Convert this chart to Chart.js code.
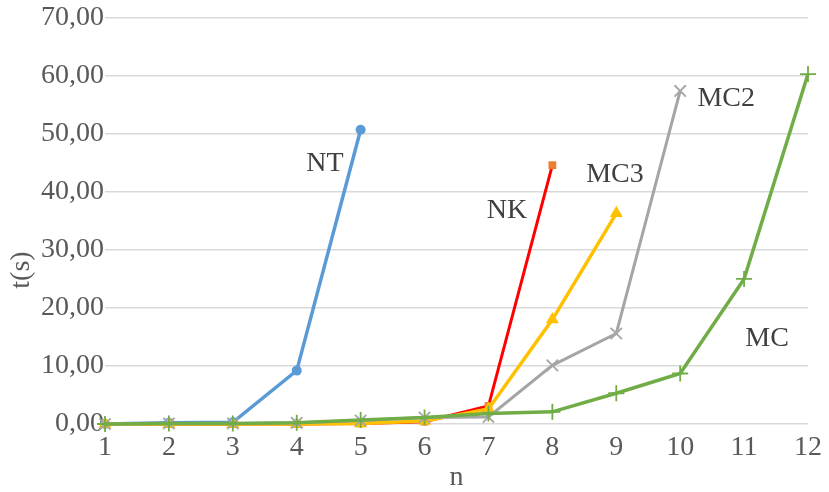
<!DOCTYPE html>
<html>
<head>
<meta charset="utf-8">
<script src="https://cdn.jsdelivr.net/npm/chart.js@4.4.1/dist/chart.umd.min.js"></script>
<style>
  html, body { margin: 0; padding: 0; background: #ffffff; }
  #wrap { width: 829px; height: 492px; }
</style>
</head>
<body>
<div id="wrap"><canvas id="c" width="829" height="492"></canvas></div>
<script>
// n values (problem size)
const nValues = [1, 2, 3, 4, 5, 6, 7, 8, 9, 10, 11, 12];

// run times t(s) per method
const ntTimes  = [0.0, 0.2, 0.3, 9.2, 50.7];
const nkTimes  = [0.0, 0.0, 0.0, 0.0, 0.1, 0.4, 3.1, 44.6];
const mc3Times = [0.0, 0.0, 0.0, 0.0, 0.1, 0.5, 2.6, 18.0, 36.3];
const mc2Times = [0.0, 0.1, 0.1, 0.2, 0.6, 1.1, 1.2, 10.1, 15.6, 57.4];
const mcTimes  = [0.0, 0.1, 0.1, 0.2, 0.7, 1.1, 1.8, 2.1, 5.3, 8.7, 25.0, 60.3];

// y tick values
const yTicks = [0, 10, 20, 30, 40, 50, 60, 70];

// series names
const seriesNames = ['NT', 'NK', 'MC3', 'MC2', 'MC'];

function toPoints(values) {
  return values.map((v, i) => ({ x: nValues[i], y: v }));
}

const serif = '"Liberation Serif", "Times New Roman", serif';
const textColor = '#595959';

// in-chart series names, placed in data coordinates
const nameSpots = [
  { text: seriesNames[0], x: 4.44, y: 44.8 },
  { text: seriesNames[1], x: 7.29, y: 36.7 },
  { text: seriesNames[2], x: 8.98, y: 43.0 },
  { text: seriesNames[3], x: 10.72, y: 56.1 },
  { text: seriesNames[4], x: 11.36, y: 14.7 }
];

const seriesLabels = {
  id: 'seriesLabels',
  afterDatasetsDraw(chart) {
    const { ctx, scales } = chart;
    ctx.save();
    ctx.font = '28px ' + serif;
    ctx.fillStyle = '#404040';
    ctx.textAlign = 'center';
    ctx.textBaseline = 'middle';
    nameSpots.forEach(s => {
      ctx.fillText(s.text, scales.x.getPixelForValue(s.x), scales.y.getPixelForValue(s.y));
    });
    ctx.restore();
  }
};

// axis titles
const axisTitles = {
  id: 'axisTitles',
  afterDraw(chart) {
    const { ctx, chartArea } = chart;
    ctx.save();
    ctx.font = '28px ' + serif;
    ctx.fillStyle = textColor;
    ctx.textAlign = 'center';
    ctx.textBaseline = 'middle';
    ctx.fillText('n', (chartArea.left + chartArea.right) / 2, chartArea.bottom + 54);
    ctx.translate(22, 270);
    ctx.rotate(-Math.PI / 2);
    ctx.fillText('t(s)', 0, 0);
    ctx.restore();
  }
};

new Chart(document.getElementById('c'), {
  type: 'line',
  data: {
    datasets: [
      {
        label: seriesNames[4], data: toPoints(mcTimes), order: 0, clip: false,
        borderColor: '#70ad47', backgroundColor: '#70ad47', borderWidth: 3.5,
        pointStyle: 'cross', pointRadius: 8, pointBorderWidth: 1.8,
        pointBorderColor: '#70ad47'
      },
      {
        label: seriesNames[3], data: toPoints(mc2Times), order: 1, clip: false,
        borderColor: '#a5a5a5', backgroundColor: '#a5a5a5', borderWidth: 3,
        pointStyle: 'crossRot', pointRadius: 8, pointBorderWidth: 1.8,
        pointBorderColor: '#a5a5a5'
      },
      {
        label: seriesNames[2], data: toPoints(mc3Times), order: 2, clip: false,
        borderColor: '#ffc000', backgroundColor: '#ffc000', borderWidth: 3.5,
        pointStyle: 'triangle', pointRadius: 7.5, pointBorderWidth: 0,
        pointBackgroundColor: '#ffc000'
      },
      {
        label: seriesNames[1], data: toPoints(nkTimes), order: 3, clip: false,
        borderColor: '#ff0000', backgroundColor: '#ed7d31', borderWidth: 3,
        pointStyle: 'rect', pointRadius: 5.5, pointBorderWidth: 0,
        pointBackgroundColor: '#ed7d31'
      },
      {
        label: seriesNames[0], data: toPoints(ntTimes), order: 4, clip: false,
        borderColor: '#5b9bd5', backgroundColor: '#5b9bd5', borderWidth: 3.5,
        pointStyle: 'circle', pointRadius: 5, pointBorderWidth: 0,
        pointBackgroundColor: '#5b9bd5'
      }
    ]
  },
  options: {
    responsive: false,
    animation: false,
    events: [],
    layout: { padding: { top: 4, right: 21, bottom: 0, left: 0 } },
    plugins: { legend: { display: false }, tooltip: { enabled: false } },
    elements: { line: { tension: 0 } },
    scales: {
      x: {
        type: 'linear', min: 1, max: 12,
        afterBuildTicks(axis) { axis.ticks = nValues.map(v => ({ value: v })); },
        afterFit(axis) { axis.height = 68; },
        grid: { display: false, drawTicks: false },
        border: { display: false },
        ticks: {
          color: textColor, padding: 7,
          font: { family: serif, size: 28 }
        }
      },
      y: {
        min: 0, max: 70,
        afterBuildTicks(axis) { axis.ticks = yTicks.map(v => ({ value: v })); },
        afterFit(axis) { axis.width = 105; },
        grid: { color: '#d9d9d9', lineWidth: 1.5, drawTicks: false },
        border: { display: false },
        ticks: {
          color: textColor, padding: 1,
          font: { family: serif, size: 28 },
          callback: v => v.toFixed(2).replace('.', ',')
        }
      }
    }
  },
  plugins: [seriesLabels, axisTitles]
});
</script>
</body>
</html>
